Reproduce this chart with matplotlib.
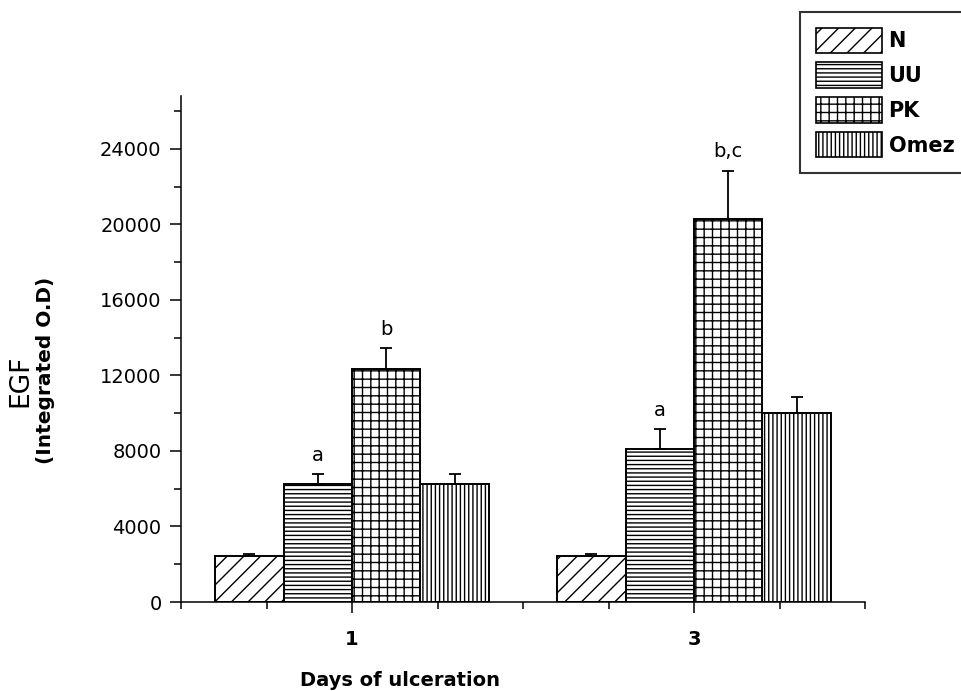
import numpy as np
import matplotlib
matplotlib.use("Agg")
import matplotlib.pyplot as plt
from matplotlib.patches import Patch
from matplotlib.ticker import MultipleLocator, FixedLocator

days = ["1", "3"]
groups = ["N", "UU", "PK", "Omez"]
values = {
    "N":    [2420, 2440],
    "UU":   [6250, 8100],
    "PK":   [12340, 20290],
    "Omez": [6250, 10010],
}
errors = {
    "N":    [130, 80],
    "UU":   [530, 1050],
    "PK":   [1100, 2550],
    "Omez": [530, 850],
}
sig_labels = {
    "UU": ["a", "a"],
    "PK": ["b", "b,c"],
}
hatches = {"N": "//", "UU": "----", "PK": "++", "Omez": "||||"}

plt.rcParams["hatch.linewidth"] = 1.0
plt.rcParams["font.family"] = "DejaVu Sans"

fig = plt.figure(figsize=(9.61, 6.91), dpi=100)
ax = fig.add_axes([181/961, 1-602/691, 684/961, (602-96)/691])

centers = np.array([1.0, 3.0])
width = 0.4
offsets = [-0.6, -0.2, 0.2, 0.6]
for g, off in zip(groups, offsets):
    x = centers + off
    ax.bar(x, values[g], width=width, facecolor="white", edgecolor="black",
           linewidth=1.4, hatch=hatches[g], zorder=2)
    ax.errorbar(x, values[g], yerr=[np.zeros(len(x)), errors[g]], fmt="none",
                ecolor="black", elinewidth=1.3, capsize=4, capthick=1.3, zorder=3)
    if g in sig_labels:
        for xi, v, e, lab in zip(x, values[g], errors[g], sig_labels[g]):
            ax.text(xi, v + e + 500, lab, ha="center", va="bottom", fontsize=14)

ax.set_xlim(0, 4)
ax.set_ylim(0, 26800)
ax.xaxis.set_major_locator(FixedLocator(centers))
ax.set_xticklabels(days, fontsize=14, fontweight="bold")
ax.xaxis.set_minor_locator(MultipleLocator(0.5))
ax.yaxis.set_major_locator(MultipleLocator(4000))
ax.yaxis.set_minor_locator(MultipleLocator(2000))
ax.tick_params(axis="both", which="major", direction="out", length=8, width=1.1, pad=6)
ax.tick_params(axis="both", which="minor", direction="out", length=5, width=1.1)
ax.tick_params(axis="y", labelsize=14)
ax.tick_params(axis="x", pad=12)
for s in ["top", "right"]:
    ax.spines[s].set_visible(False)
for s in ["left", "bottom"]:
    ax.spines[s].set_linewidth(1.1)

fig.text(20/961, 1-381/691, "EGF", rotation=90, ha="center", va="center", fontsize=19)
fig.text(46/961, 1-370/691, "(Integrated O.D)", rotation=90, ha="center", va="center",
         fontsize=14.5, fontweight="bold")
fig.text(400/961, 1-680/691, "Days of ulceration", ha="center", va="center",
         fontsize=14, fontweight="bold")

handles = [Patch(facecolor="white", edgecolor="black", hatch=hatches[g], linewidth=1.2, label=g)
           for g in groups]
leg = fig.legend(handles=handles, loc="upper left", bbox_to_anchor=(800/961, 1-12/691),
                 prop={"weight": "bold", "size": 15}, frameon=True, fancybox=False,
                 handlelength=3.2, handleheight=1.5, labelspacing=0.45, handletextpad=0.3,
                 borderpad=0.75, borderaxespad=0)
leg.get_frame().set_edgecolor("black")
leg.get_frame().set_linewidth(1.5)

fig.savefig("out.png", dpi=100)
